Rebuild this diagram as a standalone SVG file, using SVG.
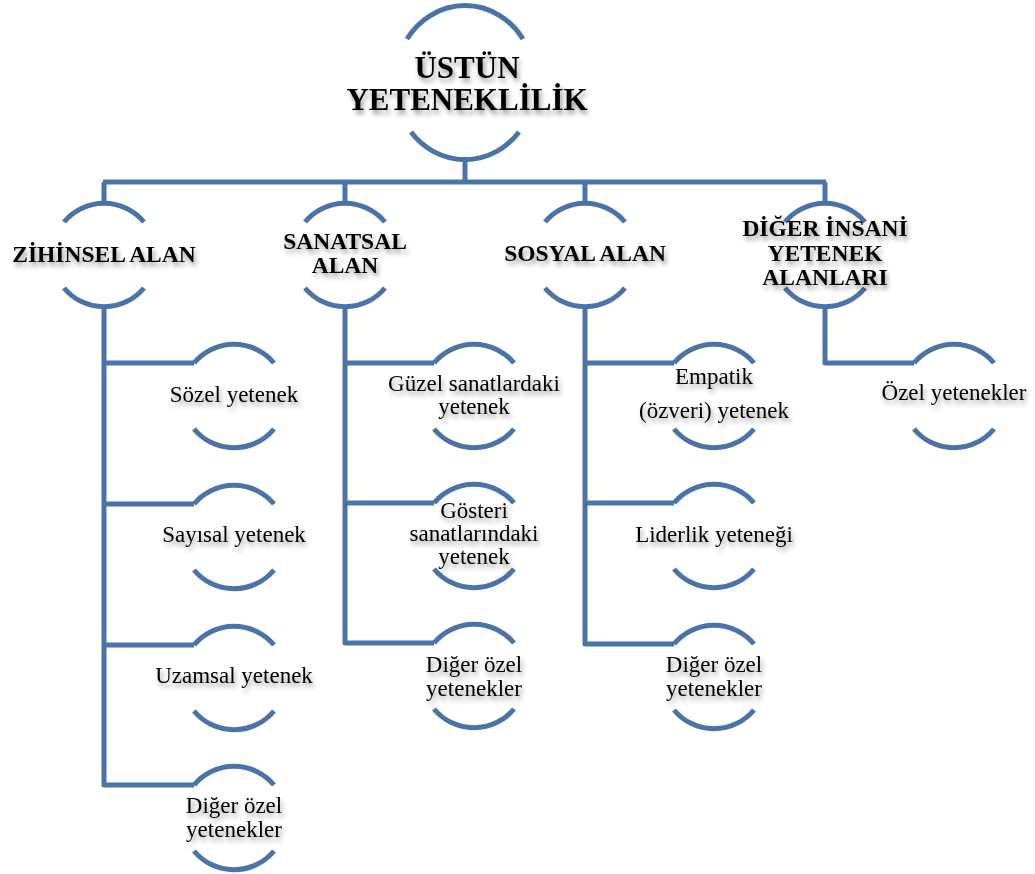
<svg xmlns="http://www.w3.org/2000/svg" width="1035" height="874" viewBox="0 0 1035 874">
<defs>
<filter id="sh" x="-20%" y="-40%" width="140%" height="200%">
<feDropShadow dx="2" dy="4" stdDeviation="2.4" flood-color="#000" flood-opacity="0.4"/>
</filter>
</defs>
<style>
.ln{fill:none;stroke:#4A74A8;stroke-width:5;stroke-linejoin:round}
.arc{fill:none;stroke:#4A74A8;stroke-width:5}
.h{font-family:"Liberation Serif","Times New Roman",serif;font-weight:bold;font-size:23.5px;fill:#000;text-anchor:middle;filter:url(#sh)}
.t{font-family:"Liberation Serif","Times New Roman",serif;font-size:23px;fill:#000;text-anchor:middle;filter:url(#sh)}
.ttl{font-size:31px}
</style>
<rect width="1035" height="874" fill="#fff"/>
<g id="connectors">
<path class="ln" d="M465,157 V182 M103,182 H826 M104,182 V202 M345,182 V202 M585,182 V202 M825,182 V202"/>
<path class="ln" d="M104,307 V785 H194 M104,363 H194 M104,504 H194 M104,645 H194"/>
<path class="ln" d="M345,307 V643 H434 M345,363 H434 M345,503 H434"/>
<path class="ln" d="M585,307 V644 H674 M585,363 H674 M585,503 H674"/>
<path class="ln" d="M825,307 V363 H914"/>
</g>
<g id="n-root">
<path class="arc" d="M407,39 A70,76 0 0 1 523,39 M411,132 A70,76 0 0 0 519,132"/>
<text class="h ttl" x="467" y="78">ÜSTÜN</text>
<text class="h ttl" x="467" y="110">YETENEKLİLİK</text>
</g>
<g id="n-zihinsel">
<path class="arc" d="M64,222 A52,52 0 0 1 144,222 M64,288 A52,52 0 0 0 144,288"/>
<text class="h" x="104" y="262">ZİHİNSEL ALAN</text>
</g>
<g id="n-sanatsal">
<path class="arc" d="M305,222 A52,52 0 0 1 385,222 M305,288 A52,52 0 0 0 385,288"/>
<text class="h" x="345" y="249">SANATSAL</text>
<text class="h" x="345" y="273">ALAN</text>
</g>
<g id="n-sosyal">
<path class="arc" d="M545,222 A52,52 0 0 1 625,222 M545,288 A52,52 0 0 0 625,288"/>
<text class="h" x="585" y="261">SOSYAL ALAN</text>
</g>
<g id="n-diger">
<path class="arc" d="M785,222 A52,52 0 0 1 865,222 M785,288 A52,52 0 0 0 865,288"/>
<text class="h" x="825" y="236">DİĞER İNSANİ</text>
<text class="h" x="825" y="261">YETENEK</text>
<text class="h" x="825" y="285">ALANLARI</text>
</g>
<g id="n-sozel">
<path class="arc" d="M194,363 A52,52 0 0 1 274,363 M194,429 A52,52 0 0 0 274,429"/>
<text class="t" x="234" y="402">Sözel yetenek</text>
</g>
<g id="n-sayisal">
<path class="arc" d="M194,504 A52,52 0 0 1 274,504 M194,570 A52,52 0 0 0 274,570"/>
<text class="t" x="234" y="542">Sayısal yetenek</text>
</g>
<g id="n-uzamsal">
<path class="arc" d="M194,645 A52,52 0 0 1 274,645 M194,711 A52,52 0 0 0 274,711"/>
<text class="t" x="234" y="683">Uzamsal yetenek</text>
</g>
<g id="n-zdiger">
<path class="arc" d="M194,785 A52,52 0 0 1 274,785 M194,851 A52,52 0 0 0 274,851"/>
<text class="t" x="234" y="813">Diğer özel</text>
<text class="t" x="234" y="837">yetenekler</text>
</g>
<g id="n-guzel">
<path class="arc" d="M434,363 A52,52 0 0 1 514,363 M434,429 A52,52 0 0 0 514,429"/>
<text class="t" x="474" y="391">Güzel sanatlardaki</text>
<text class="t" x="474" y="414">yetenek</text>
</g>
<g id="n-gosteri">
<path class="arc" d="M434,503 A52,52 0 0 1 514,503 M434,569 A52,52 0 0 0 514,569"/>
<text class="t" x="474" y="518">Gösteri</text>
<text class="t" x="474" y="541">sanatlarındaki</text>
<text class="t" x="474" y="564">yetenek</text>
</g>
<g id="n-sdiger">
<path class="arc" d="M434,643 A52,52 0 0 1 514,643 M434,709 A52,52 0 0 0 514,709"/>
<text class="t" x="474" y="672">Diğer özel</text>
<text class="t" x="474" y="696">yetenekler</text>
</g>
<g id="n-empatik">
<path class="arc" d="M674,363 A52,52 0 0 1 754,363 M674,429 A52,52 0 0 0 754,429"/>
<text class="t" x="714" y="384">Empatik</text>
<text class="t" x="714" y="418">(özveri) yetenek</text>
</g>
<g id="n-liderlik">
<path class="arc" d="M674,503 A52,52 0 0 1 754,503 M674,569 A52,52 0 0 0 754,569"/>
<text class="t" x="714" y="542">Liderlik yeteneği</text>
</g>
<g id="n-sodiger">
<path class="arc" d="M674,644 A52,52 0 0 1 754,644 M674,710 A52,52 0 0 0 754,710"/>
<text class="t" x="714" y="672">Diğer özel</text>
<text class="t" x="714" y="696">yetenekler</text>
</g>
<g id="n-ozel">
<path class="arc" d="M914,363 A52,52 0 0 1 994,363 M914,429 A52,52 0 0 0 994,429"/>
<text class="t" x="954" y="400">Özel yetenekler</text>
</g>
</svg>
